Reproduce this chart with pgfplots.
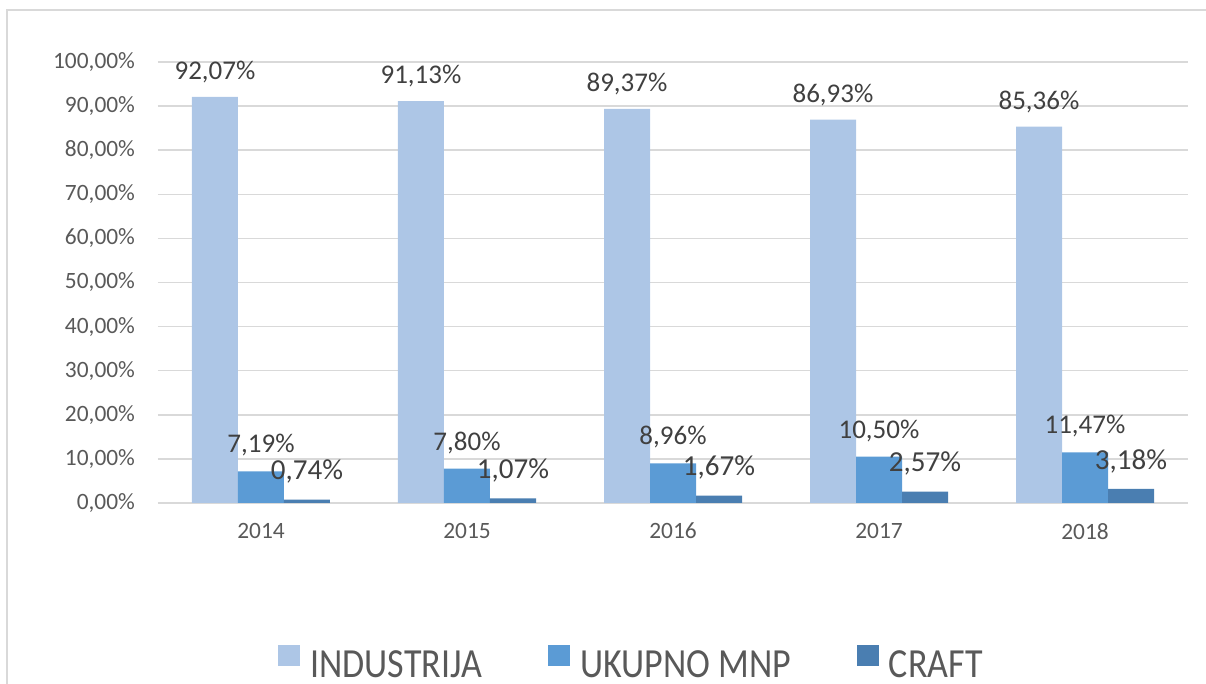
\documentclass[border=0pt]{standalone}
\usepackage{pgfplots}
\pgfplotsset{compat=1.18}
\usepackage{fontspec}
\setmainfont{Carlito}
\usepackage{graphicx}
\definecolor{cInd}{HTML}{ADC6E6}
\definecolor{cMnp}{HTML}{5B9BD5}
\definecolor{cCraft}{HTML}{4A7EB1}
\definecolor{gridc}{HTML}{D9D9D9}
\definecolor{tickc}{HTML}{595959}
\definecolor{labc}{HTML}{404040}
\begin{document}
\begin{tikzpicture}
\path[use as bounding box] (-79pt,-90.5pt) rectangle (524pt,251.5pt);
\draw[gridc, line width=0.75pt] (-75.5pt,-95pt) -- (-75.5pt,246.5pt) -- (530pt,246.5pt);
\begin{axis}[
  at={(0,0)}, anchor=south west, scale only axis,
  width=515pt, height=220.5pt,
  ybar=0pt, bar width=23pt,
  xmin=-0.5, xmax=4.5, ymin=0, ymax=100,
  xtick={0,1,2,3,4}, xticklabels={2014,2015,2016,2017,2018},
  ytick={0,10,...,100},
  ymajorgrids, grid style={gridc, line width=0.75pt},
  axis line style={draw=none},
  major tick length=0pt,
  clip=false,
  /pgf/number format/assume math mode=true,
  yticklabel={\pgfmathprintnumber[fixed,fixed zerofill,precision=2,use comma]{\tick}\%},
  ticklabel style={text=tickc, font=\fontsize{11.7}{14}\selectfont},
  xticklabel style={yshift=-6.5pt},
  yticklabel style={xshift=-8pt},
  nodes near coords={\pgfmathprintnumber[fixed,fixed zerofill,precision=2,use comma]{\pgfplotspointmeta}\%},
  every node near coord/.append style={text=labc, font=\fontsize{13.5}{16}\selectfont, anchor=center},
  legend style={at={(0.1165,-0.362)}, anchor=west, draw=none, fill=none, inner sep=0pt,
    legend columns=3, font=\fontsize{18}{21}\selectfont, text=tickc,
    /tikz/every odd column/.style={column sep=5pt},
    /tikz/every even column/.style={column sep=33pt},
    nodes={inner sep=0pt}},
  legend cell align=left,
]
\addplot[draw=none, fill=cInd, every node near coord/.append style={yshift=12.5pt},
  legend image code/.code={\fill[cInd] (0pt,0pt) rectangle (11pt,10.5pt);}]
  coordinates {(0,92.07) (1,91.13) (2,89.37) (3,86.93) (4,85.36)};
\addplot[draw=none, fill=cMnp, every node near coord/.append style={yshift=13pt},
  legend image code/.code={\fill[cMnp] (0pt,0pt) rectangle (11pt,10.5pt);}]
  coordinates {(0,7.19) (1,7.80) (2,8.96) (3,10.50) (4,11.47)};
\addplot[draw=none, fill=cCraft, every node near coord/.append style={yshift=14pt, font=\fontsize{14.5}{17}\selectfont},
  legend image code/.code={\fill[cCraft] (0pt,0pt) rectangle (11pt,10.5pt);}]
  coordinates {(0,0.74) (1,1.07) (2,1.67) (3,2.57) (4,3.18)};
\addlegendentry{\scalebox{1}[1.15]{INDUSTRIJA}}
\addlegendentry{\scalebox{1}[1.15]{UKUPNO MNP}}
\addlegendentry{\scalebox{1}[1.15]{CRAFT}}
\end{axis}
\end{tikzpicture}
\end{document}
